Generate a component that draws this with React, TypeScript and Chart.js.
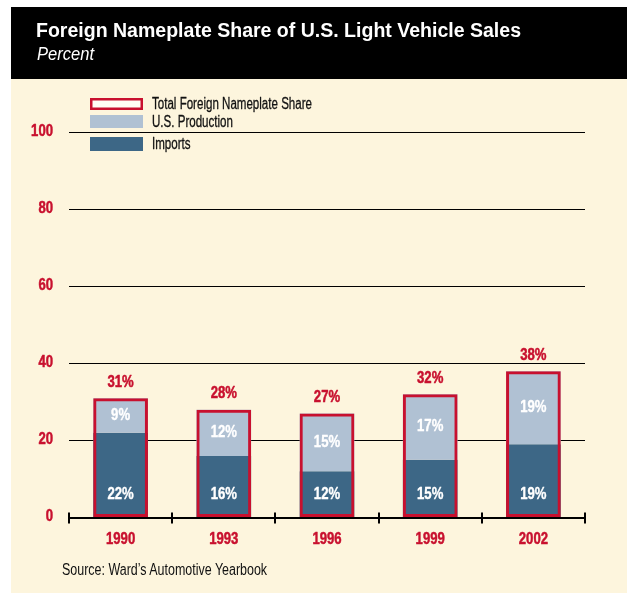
import React, { useEffect, useRef } from 'react';
import { Chart, registerables } from 'chart.js';

Chart.register(...registerables);

const years = ['1990', '1993', '1996', '1999', '2002'];
const imports = [22, 16, 12, 15, 19];
const usProduction = [9, 12, 15, 17, 19];
const totalShare = [31, 28, 27, 32, 38];
const yTickValues = [0, 20, 40, 60, 80, 100];
const seriesNames = ['Total Foreign Nameplate Share', 'U.S. Production', 'Imports'];
const titleText = 'Foreign Nameplate Share of U.S. Light Vehicle Sales';
const subtitleText = 'Percent';
const sourceText = 'Source: Ward’s Automotive Yearbook';

const RED = '#C8102E';
const DARK = '#3D6786';
const LIGHT = '#B0C1D3';
const CREAM = '#FDF5DD';
const FAM = '"Liberation Sans", Arial, sans-serif';
const SQ = 0.82; // horizontal squeeze for condensed look

function measure(text: string, font: string) {
  const c = document.createElement('canvas').getContext('2d')!;
  c.font = font;
  return c.measureText(text).width;
}

function squeeze(ctx: any, text: string, x: number, y: number, sx: number, align: string, heavy = 0) {
  ctx.save();
  ctx.translate(x, y);
  ctx.scale(sx, 1);
  ctx.textAlign = align;
  if (heavy > 0) {
    ctx.lineWidth = heavy;
    ctx.strokeStyle = ctx.fillStyle;
    ctx.lineJoin = 'round';
    ctx.strokeText(text, 0, 0);
  }
  ctx.fillText(text, 0, 0);
  ctx.restore();
}

const labelPlugin = {
  id: 'barLabels',
  afterDatasetsDraw(chart: any) {
    const ctx = chart.ctx;
    const xs = chart.scales.x;
    const ys = chart.scales.y;
    const totalMeta = chart.getDatasetMeta(0);
    const prodMeta = chart.getDatasetMeta(1);
    const impMeta = chart.getDatasetMeta(2);
    ctx.save();
    ctx.font = `bold 16px ${FAM}`;
    ctx.textBaseline = 'middle';
    ctx.fillStyle = RED;
    totalMeta.data.forEach((el: any, i: number) => {
      squeeze(ctx, totalShare[i] + '%', el.x, el.y - 16, SQ, 'center', 0.5);
    });
    ctx.fillStyle = '#ffffff';
    prodMeta.data.forEach((el: any, i: number) => {
      squeeze(ctx, usProduction[i] + '%', el.x, (el.y + el.base) / 2, SQ, 'center', 0.4);
    });
    impMeta.data.forEach((el: any, i: number) => {
      squeeze(ctx, imports[i] + '%', el.x, el.base - 22, SQ, 'center', 0.4);
    });
    // axis tick marks at category boundaries
    const y0 = ys.getPixelForValue(0);
    ctx.strokeStyle = '#000';
    ctx.lineWidth = 2;
    for (let i = 0; i <= years.length; i++) {
      const px = Math.round(xs.getPixelForValue(i - 0.5));
      ctx.beginPath();
      ctx.moveTo(px, y0 - 5);
      ctx.lineTo(px, y0 + 6);
      ctx.stroke();
    }
    // axis tick labels
    ctx.fillStyle = RED;
    ctx.font = `bold 16px ${FAM}`;
    ctx.textBaseline = 'middle';
    years.forEach((lab, i) => {
      squeeze(ctx, lab, xs.getPixelForValue(i), y0 + 22.5, SQ, 'center', 0.5);
    });
    yTickValues.forEach((v) => {
      squeeze(ctx, String(v), xs.left - 16, ys.getPixelForValue(v) - 1, SQ, 'right', 0.5);
    });
    ctx.restore();
  },
  afterDraw(chart: any) {
    const ctx = chart.ctx;
    const ds = chart.data.datasets;
    ctx.save();
    const bx = 90, bw = 53;
    const rows = [
      { y: 98, h: 12 },
      { y: 115, h: 13 },
      { y: 137, h: 14 },
    ];
    const lf = `16px ${FAM}`;
    const lsq = 160 / measure(seriesNames[0], lf);
    rows.forEach((r, i) => {
      const d = ds[i];
      if (i === 0) {
        ctx.fillStyle = '#FFFDF4';
        ctx.fillRect(bx, r.y, bw, r.h);
        ctx.strokeStyle = d.borderColor;
        ctx.lineWidth = 2.5;
        ctx.strokeRect(bx + 1.25, r.y + 1.25, bw - 2.5, r.h - 2.5);
      } else {
        ctx.fillStyle = d.backgroundColor;
        ctx.fillRect(bx, r.y, bw, r.h);
      }
      ctx.fillStyle = '#111';
      ctx.font = lf;
      ctx.textBaseline = 'middle';
      squeeze(ctx, d.label, 152, r.y + r.h / 2 + 1, lsq, 'left', 0.3);
    });
    ctx.restore();
  },
};

export default function App() {
  const ref = useRef<HTMLCanvasElement>(null);

  const titleFont = `bold 20px ${FAM}`;
  const subFont = `italic 18px ${FAM}`;
  const srcFont = `16px ${FAM}`;
  const titleSq = 485 / measure(titleText, titleFont);
  const subSq = 57 / measure(subtitleText, subFont);
  const srcSq = 206 / measure(sourceText, srcFont);

  useEffect(() => {
    if (!ref.current) return;
    const chart = new Chart(ref.current, {
      type: 'bar',
      data: {
        labels: years,
        datasets: [
          {
            label: seriesNames[0],
            data: totalShare,
            backgroundColor: 'rgba(0,0,0,0)',
            borderColor: RED,
            borderWidth: 3,
            borderSkipped: false,
          },
          {
            label: seriesNames[1],
            data: usProduction.map((v, i) => [imports[i], imports[i] + v]),
            backgroundColor: LIGHT,
            borderWidth: 0,
          },
          {
            label: seriesNames[2],
            data: imports,
            backgroundColor: DARK,
            borderWidth: 0,
          },
        ] as any,
      },
      options: {
        animation: false,
        responsive: false,
        devicePixelRatio: 1,
        layout: { padding: { top: 132.5, right: 51, bottom: 0, left: 0 } },
        datasets: {
          bar: { categoryPercentage: 1, barPercentage: 0.53 },
        } as any,
        plugins: {
          legend: { display: false },
          tooltip: { enabled: false },
          title: { display: false },
        },
        scales: {
          x: {
            stacked: true,
            grid: { display: false, drawTicks: false },
            border: { display: true, color: '#000', width: 2 },
            ticks: { display: false },
            afterFit: (s: any) => {
              s.height = 593 - 517.5;
            },
          },
          y: {
            stacked: false,
            min: 0,
            max: 100,
            afterBuildTicks: (s: any) => {
              s.ticks = yTickValues.map((v) => ({ value: v }));
            },
            grid: {
              drawTicks: false,
              color: (c: any) => (c.tick && c.tick.value === 0 ? 'rgba(0,0,0,0)' : '#000'),
              lineWidth: 1,
            },
            border: { display: false },
            ticks: { display: false },
            afterFit: (s: any) => {
              s.width = 69;
            },
          },
        },
      },
      plugins: [labelPlugin],
    });
    return () => chart.destroy();
  }, []);

  return (
    <div
      style={{
        position: 'absolute',
        left: 0,
        top: 0,
        width: 636,
        height: 593,
        background: '#fff',
        overflow: 'hidden',
      }}
    >
      <div style={{ position: 'absolute', left: 11, top: 7, width: 616, height: 72, background: '#000' }} />
      <div style={{ position: 'absolute', left: 11, top: 79, width: 616, height: 514, background: CREAM }} />
      <canvas ref={ref} width={636} height={593} style={{ position: 'absolute', left: 0, top: 0, width: 636, height: 593 }} />
      <div
        style={{
          position: 'absolute',
          left: 36,
          top: 20,
          color: '#fff',
          font: titleFont,
          lineHeight: '20px',
          whiteSpace: 'nowrap',
          transform: `scaleX(${titleSq})`,
          transformOrigin: 'left top',
        }}
      >
        {titleText}
      </div>
      <div
        style={{
          position: 'absolute',
          left: 37,
          top: 45,
          color: '#fff',
          font: subFont,
          lineHeight: '18px',
          whiteSpace: 'nowrap',
          transform: `scaleX(${subSq})`,
          transformOrigin: 'left top',
        }}
      >
        {subtitleText}
      </div>
      <div
        style={{
          position: 'absolute',
          left: 62,
          top: 561,
          color: '#111',
          font: srcFont,
          lineHeight: '18px',
          whiteSpace: 'nowrap',
          transform: `scaleX(${srcSq})`,
          transformOrigin: 'left top',
        }}
      >
        {sourceText}
      </div>
    </div>
  );
}
